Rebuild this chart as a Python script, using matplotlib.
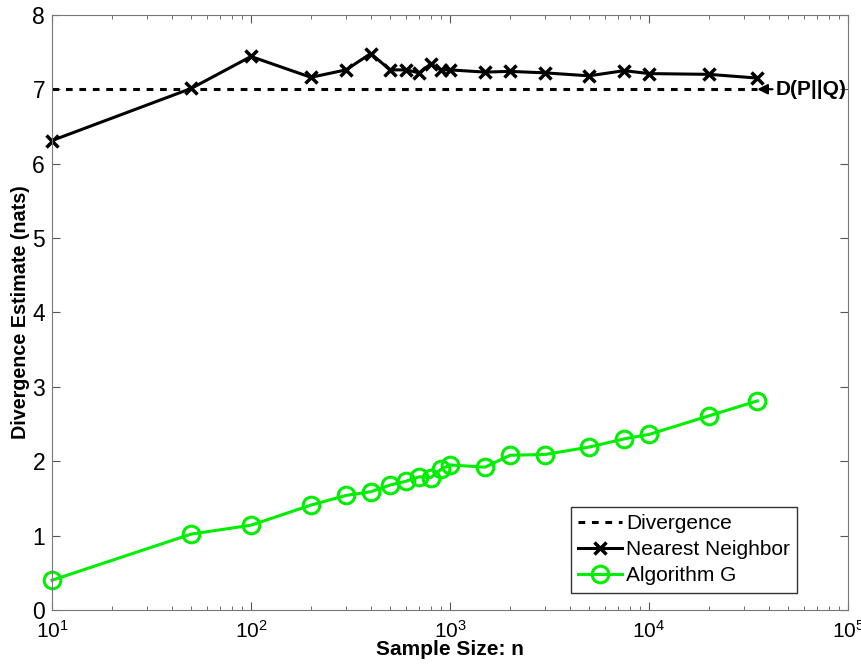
import matplotlib
matplotlib.use('Agg')
import matplotlib.pyplot as plt

plt.rcParams['font.family'] = ['Liberation Sans', 'DejaVu Sans']
plt.rcParams['mathtext.fontset'] = 'custom'
plt.rcParams['mathtext.rm'] = 'Liberation Sans'

# sample sizes
n = [10, 50, 100, 200, 300, 400, 500, 600, 700, 800, 900, 1000,
     1500, 2000, 3000, 5000, 7500, 10000, 20000, 35000]

# estimates (nats)
nearest = [6.31, 7.01, 7.44, 7.16, 7.26, 7.48, 7.26, 7.26, 7.22, 7.34, 7.26, 7.26,
           7.23, 7.24, 7.22, 7.18, 7.25, 7.21, 7.20, 7.15]
algo_g = [0.40, 1.02, 1.14, 1.41, 1.54, 1.59, 1.68, 1.73, 1.79, 1.78, 1.89, 1.95,
          1.92, 2.08, 2.09, 2.19, 2.30, 2.36, 2.61, 2.81]

true_div = 7.0
div_range = [10, 35000]

fig = plt.figure(figsize=(8.62, 6.65), dpi=100)
ax = fig.add_axes([0.0603, 0.0827, 0.9235, 0.895])

ax.plot(div_range, [true_div, true_div], 'k--', lw=2.2, dashes=(2.2, 2.2), label='Divergence')
ax.plot(n, nearest, color='k', lw=2.2, marker='x', ms=9, mew=2.5, label='Nearest Neighbor',
        clip_on=False)
ax.plot(n, algo_g, color='#00ee00', lw=2.2, marker='o', ms=12, mew=2.2,
        mfc='none', label='Algorithm G', clip_on=False)

ax.annotate('D(P||Q)', xy=(div_range[1], true_div), xytext=(13, 0), textcoords='offset points',
            ha='left', va='center', fontsize=15, fontweight='bold',
            arrowprops=dict(arrowstyle='-|>', color='k', lw=1.5, shrinkA=0, shrinkB=0,
                            mutation_scale=15))

ax.set_xscale('log')
ax.set_xlim(10, 1e5)
ax.set_ylim(0, 8)
ax.tick_params(direction='in', which='both', top=True, right=True, color='#555555')
ax.tick_params(axis='x', labelsize=15, pad=7)
ax.tick_params(axis='y', labelsize=16.5, pad=5)
ax.tick_params(which='major', length=6)
ax.tick_params(which='minor', length=3)
for s in ax.spines.values():
    s.set_color('#777777')

ax.set_xlabel('Sample Size: n', fontsize=15, fontweight='bold', labelpad=-1)
ax.set_ylabel('Divergence Estimate (nats)', fontsize=14.2, fontweight='bold', labelpad=2)

leg = ax.legend(loc='lower right', bbox_to_anchor=(0.936, 0.029), borderaxespad=0,
                fontsize=15, frameon=True, fancybox=False, edgecolor='k',
                handlelength=2.1, handletextpad=0.2, borderpad=0.35, labelspacing=0.35)
leg.get_frame().set_linewidth(1.0)

fig.savefig('out.png', dpi=100)
